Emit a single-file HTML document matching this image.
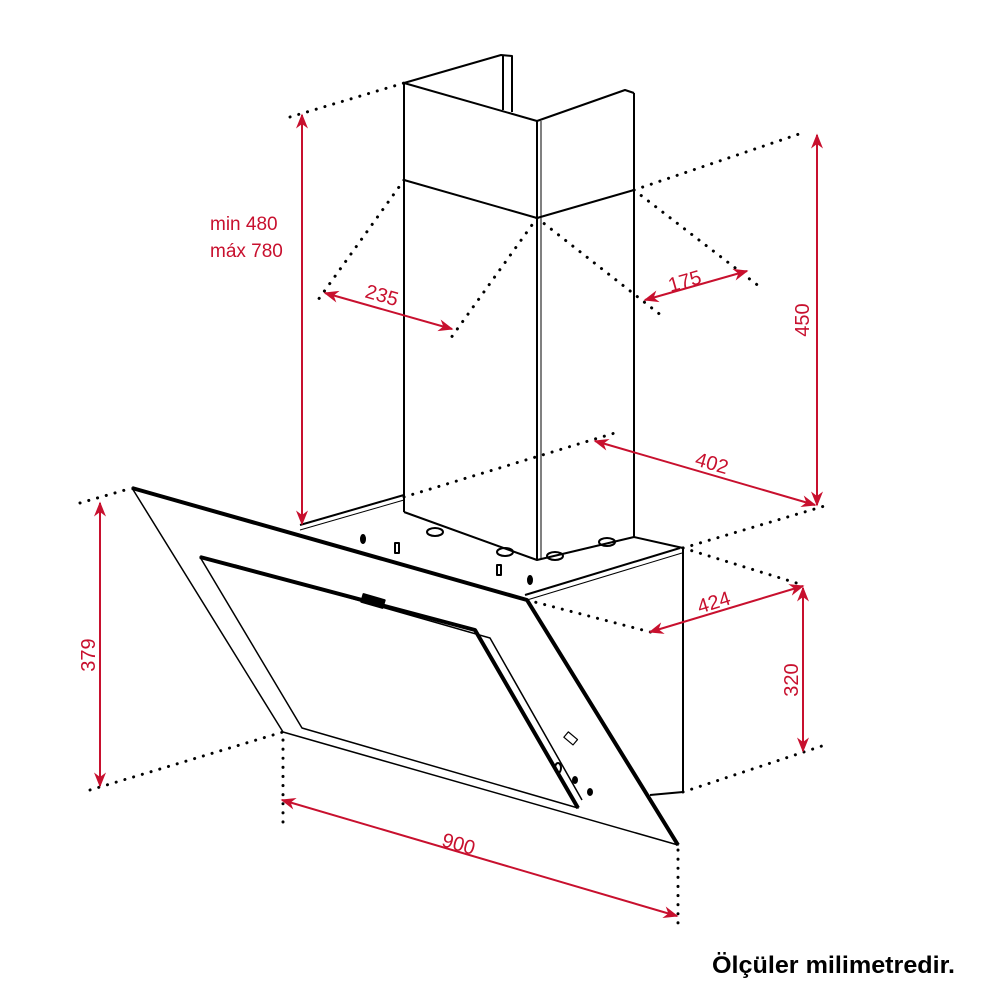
<!DOCTYPE html>
<html><head><meta charset="utf-8"><style>
html,body{margin:0;padding:0;background:#fff;}
svg{display:block}
text{font-family:"Liberation Sans",sans-serif;}
</style></head><body>
<svg width="1000" height="1000" viewBox="0 0 1000 1000" xmlns="http://www.w3.org/2000/svg">
<defs>
<marker id="a" viewBox="0 0 10 10" refX="9" refY="5" markerWidth="15" markerHeight="15" orient="auto-start-reverse" markerUnits="userSpaceOnUse"><path d="M0,1 L10,5 L0,9 L3,5 Z" fill="#c8102e"/></marker>
</defs>
<g stroke="#000" stroke-width="3" stroke-dasharray="0.1 9" stroke-linecap="round" fill="none">
<line x1="290" y1="117" x2="404" y2="83"/>
<line x1="404" y1="180" x2="318" y2="300"/>
<line x1="537" y1="218" x2="448" y2="342"/>
<line x1="537" y1="218" x2="662" y2="316"/>
<line x1="634" y1="190" x2="760" y2="287"/>
<line x1="634" y1="190" x2="805" y2="132"/>
<line x1="404" y1="497" x2="618" y2="432"/>
<line x1="683" y1="548" x2="828" y2="505"/>
<line x1="683" y1="548" x2="803" y2="585"/>
<line x1="527" y1="600" x2="658" y2="634"/>
<line x1="683" y1="792" x2="822" y2="746"/>
<line x1="80" y1="503" x2="132" y2="488"/>
<line x1="90" y1="790" x2="283" y2="732"/>
<line x1="283" y1="740" x2="283" y2="825"/>
<line x1="678" y1="850" x2="678" y2="925"/>
</g>
<g stroke="#000" stroke-width="2" fill="none" stroke-linejoin="round">
<path d="M404,83 L501,55 L512,56 L512,112"/>
<line x1="503" y1="56" x2="503" y2="110"/>
<path d="M537,121 L625,90 L634,93"/>
<path d="M404,83 L537,121"/>
<line x1="404" y1="83" x2="404" y2="512"/>
<line x1="537" y1="121" x2="537" y2="560"/>
<line x1="541" y1="121" x2="541" y2="560" stroke-width="1"/>
<line x1="634" y1="93" x2="634" y2="537"/>
<path d="M404,180 L537,218 L634,190"/>
<path d="M404,512 L537,560 L634,537 L683,548"/>
<line x1="683" y1="548" x2="683" y2="792"/>
<path d="M683,792 L650,795"/>
<path d="M300,525 L404,495"/>
<path d="M300,530 L404,500" stroke-width="1"/>
<path d="M525,595 L680,548"/>
<path d="M527,600 L682,553" stroke-width="1"/>
<path d="M132,488 L527,600 L678,845 L283,732 Z" stroke-width="1.5"/>
<path d="M132,488 L527,600 L678,845" stroke-width="4"/>
<path d="M200,557 L475,630 L578,808 L302,728 Z" stroke-width="1.5"/>
<path d="M200,557 L475,630 L578,808" stroke-width="4"/>
<path d="M235,565 L490,638 L582,800" stroke-width="1.5"/>
<rect x="362" y="597" width="22" height="8" fill="#000" transform="rotate(16 373 601)"/>
<rect x="565" y="735" width="12" height="7" transform="rotate(40 571 738)" stroke-width="1.2"/>
<ellipse cx="363" cy="539" rx="2" ry="4" fill="#000"/>
<rect x="395" y="543" width="4" height="10"/>
<rect x="497" y="565" width="4" height="10"/>
<ellipse cx="530" cy="580" rx="2" ry="4" fill="#000"/>
<ellipse cx="435" cy="532" rx="8" ry="4"/>
<ellipse cx="505" cy="552" rx="8" ry="4"/>
<ellipse cx="555" cy="556" rx="8" ry="4"/>
<ellipse cx="607" cy="542" rx="8" ry="4"/>
<ellipse cx="558" cy="768" rx="3" ry="5"/>
<ellipse cx="575" cy="780" rx="2" ry="3" fill="#000"/>
<ellipse cx="590" cy="792" rx="2" ry="3" fill="#000"/>
</g>
<g stroke="#c8102e" stroke-width="2" fill="none">
<line x1="302" y1="115" x2="302" y2="524" marker-start="url(#a)" marker-end="url(#a)"/>
<line x1="325" y1="293" x2="452" y2="329" marker-start="url(#a)" marker-end="url(#a)"/>
<line x1="645" y1="300" x2="747" y2="271" marker-start="url(#a)" marker-end="url(#a)"/>
<line x1="817" y1="135" x2="817" y2="505" marker-start="url(#a)" marker-end="url(#a)"/>
<line x1="595" y1="441" x2="815" y2="505" marker-start="url(#a)" marker-end="url(#a)"/>
<line x1="650" y1="632" x2="803" y2="586" marker-start="url(#a)" marker-end="url(#a)"/>
<line x1="803" y1="588" x2="803" y2="751" marker-start="url(#a)" marker-end="url(#a)"/>
<line x1="100" y1="503" x2="100" y2="786" marker-start="url(#a)" marker-end="url(#a)"/>
<line x1="282" y1="800" x2="677" y2="916" marker-start="url(#a)" marker-end="url(#a)"/>
</g>
<g fill="#c8102e" font-size="19">
<text x="210" y="230">min 480</text>
<text x="210" y="257">máx 780</text>
<text x="365" y="302" transform="rotate(16 382 296)" font-size="20">235</text>
<text x="668" y="288" transform="rotate(-16 684 281)" font-size="20">175</text>
<text x="695" y="470" transform="rotate(16 712 464)" font-size="20">402</text>
<text x="697" y="609" transform="rotate(-17 714 602)" font-size="20">424</text>
<text x="442" y="851" transform="rotate(16 460 844)" font-size="20">900</text>
<text transform="translate(809,320) rotate(-90)" text-anchor="middle" font-size="20">450</text>
<text transform="translate(798,680) rotate(-90)" text-anchor="middle" font-size="20">320</text>
<text transform="translate(95,655) rotate(-90)" text-anchor="middle" font-size="20">379</text>
</g>
<text x="712" y="973" font-size="24" font-weight="bold" fill="#000" textLength="243" lengthAdjust="spacingAndGlyphs">Ölçüler milimetredir.</text>
</svg>
</body></html>
